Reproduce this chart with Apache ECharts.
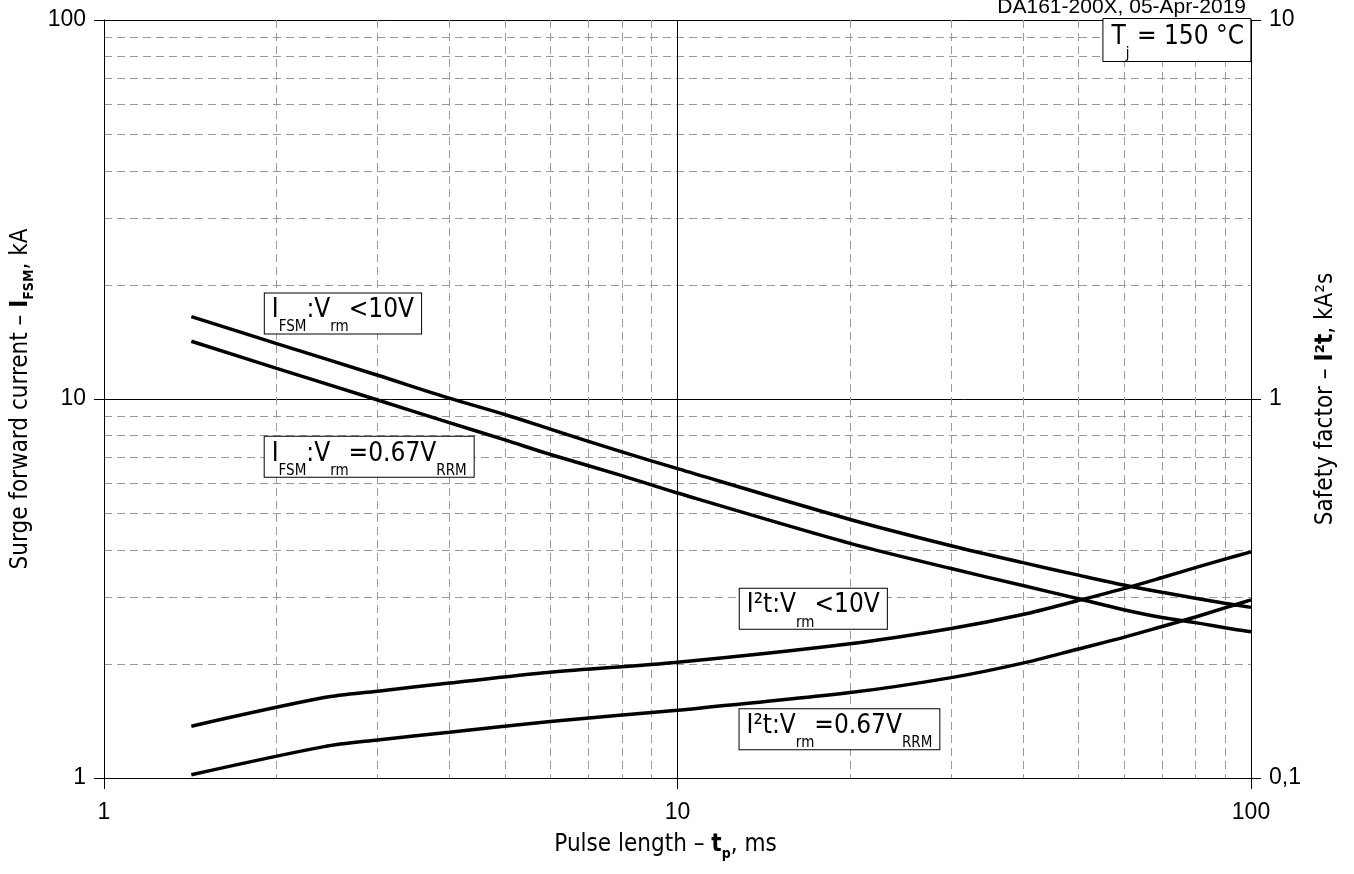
<!DOCTYPE html>
<html>
<head>
<meta charset="utf-8">
<script src="https://cdn.jsdelivr.net/npm/echarts@6/dist/echarts.min.js"></script>
<style>
html,body{margin:0;padding:0;background:#fff;}
#chart{width:1354px;height:874px;}
</style>
</head>
<body>
<div id="chart"></div>
<script>
// ---- data ----
const tpIfsm = [1.42, 2, 3, 4, 5, 6, 8, 10, 20, 30, 40, 50, 60, 70, 80, 90, 100];
const ifsmLow = [16.5, 14.0, 11.55, 10.05, 9.10, 8.33, 7.25, 6.55, 4.81, 4.10, 3.70, 3.43, 3.23, 3.09, 2.98, 2.89, 2.82];   // IFSM : Vrm < 10V  (kA)
const ifsmRated = [14.2, 12.05, 9.94, 8.66, 7.80, 7.14, 6.28, 5.65, 4.16, 3.57, 3.22, 2.97, 2.78, 2.65, 2.57, 2.49, 2.43]; // IFSM : Vrm = 0.67VRRM (kA)

const tpI2t = [1.42, 2.42, 3, 4, 6, 10, 20, 30, 40, 50, 60, 70, 80, 90, 100];
const i2tLow = [0.137, 0.163, 0.1695, 0.178, 0.190, 0.202, 0.226, 0.248, 0.270, 0.294, 0.316, 0.338, 0.359, 0.378, 0.395];   // kA²s
const i2tRated = [0.102, 0.121, 0.126, 0.132, 0.141, 0.151, 0.168, 0.184, 0.201, 0.219, 0.235, 0.251, 0.266, 0.281, 0.295]; // kA²s

const xTicks = [1, 10, 100];
const leftTicks = [1, 10, 100];
const rightTicks = ['0,1', '1', '10'];

// label anchor points (data coordinates)
const labelIfsmLow = [2.61, 16.8];
const labelIfsmRated = [2.90, 7.04];
const labelI2tLow = [17.25, 0.2797];
const labelI2tRated = [19.16, 0.1345];

// ---- styles ----
const F = "'DejaVu Sans Condensed','DejaVu Sans',sans-serif";
const NF = "'Liberation Sans',Arial,sans-serif";

const boxRich = {
  n: {fontSize: 26, fontFamily: F, fontWeight: 'normal', color: '#000', lineHeight: 40, padding: [0, 0, 6, 0]},
  s: {fontSize: 15, fontFamily: F, fontWeight: 'normal', color: '#000', lineHeight: 40, padding: [28, 0, 0, 0]}
};
const titleRich = {
  n: {fontSize: 24, fontFamily: F, fontWeight: 'normal', color: '#000', lineHeight: 30},
  b: {fontSize: 24, fontFamily: F, color: '#000', fontWeight: 'bold', lineHeight: 30},
  bs: {fontSize: 14, fontFamily: F, color: '#000', fontWeight: 'bold', lineHeight: 30, padding: [18, 0, 0, 0]}
};

function zip(xs, ys) { return xs.map((x, i) => [x, ys[i]]); }

function boxLabel(coord, text) {
  return {
    symbol: 'rect', symbolSize: 1,
    itemStyle: {color: 'rgba(0,0,0,0)'},
    data: [{coord: coord}],
    label: {
      show: true, position: 'inside', formatter: text,
      backgroundColor: '#fff', borderColor: '#000', borderWidth: 1,
      padding: [0, 7, 0, 7], rich: boxRich
    }
  };
}

function lineSeries(name, data, yIdx, mp) {
  return {
    name: name, type: 'line', xAxisIndex: 0, yAxisIndex: yIdx,
    data: data, symbol: 'none', smooth: 0.3,
    lineStyle: {color: '#000', width: 3.5},
    itemStyle: {color: '#000'},
    markPoint: mp, z: 5
  };
}

function fmtTick(list, base) {
  return function (v) {
    for (let i = 0; i < base.length; i++) {
      if (Math.abs(Math.log10(v) - Math.log10(base[i])) < 1e-6) return list[i];
    }
    return '';
  };
}

const minorSplit = {show: true, lineStyle: {color: '#9a9a9a', width: 1, type: [8, 5]}};

const chart = echarts.init(document.getElementById('chart'), null, {renderer: 'canvas'});
chart.setOption({
  animation: false,
  backgroundColor: '#fff',
  title: [
    {
      text: 'DA161-200X, 05-Apr-2019', right: 108, top: -3, padding: 0,
      textStyle: {fontSize: 21, fontWeight: 'normal', fontFamily: NF, color: '#000'}
    },
    {
      text: '{n|T}{s|j}{n| = 150 °C}', right: 103, top: 20,
      padding: [0, 7, 0, 9], backgroundColor: '#fff', borderColor: '#000', borderWidth: 1,
      textStyle: {rich: boxRich, fontWeight: 'normal'}, z: 10
    }
  ],
  grid: {left: 104, right: 103, top: 20, bottom: 96, containLabel: false, outerBoundsMode: 'none'},
  xAxis: {
    type: 'log', logBase: 10, min: 1, max: 100,
    name: '{n|Pulse length – }{b|t}{bs|p}{n|, ms}',
    nameLocation: 'middle', nameGap: 52,
    nameTextStyle: {rich: titleRich, padding: [0, 24, 0, 0]},
    axisLine: {show: true, onZero: false, lineStyle: {color: '#000', width: 1}},
    axisTick: {show: true, length: 11, lineStyle: {color: '#000', width: 1}},
    axisLabel: {fontSize: 23, fontFamily: NF, color: '#000', margin: 23, formatter: fmtTick(xTicks.map(String), xTicks)},
    splitLine: {show: true, lineStyle: {color: '#000', width: 1}},
    minorTick: {show: false, splitNumber: 9},
    minorSplitLine: minorSplit
  },
  yAxis: [
    {
      type: 'log', logBase: 10, min: 1, max: 100, position: 'left',
      name: '{n|Surge forward current – }{b|I}{bs|FSM}{n|, kA}',
      nameLocation: 'middle', nameGap: 67,
      nameTextStyle: {rich: titleRich},
      axisLine: {show: true, onZero: false, lineStyle: {color: '#000', width: 1}},
      axisTick: {show: true, length: 10, lineStyle: {color: '#000', width: 1}},
      axisLabel: {fontSize: 23, fontFamily: NF, color: '#000', margin: 18, formatter: fmtTick(leftTicks.map(String), leftTicks)},
      splitLine: {show: true, lineStyle: {color: '#000', width: 1}},
      minorTick: {show: false, splitNumber: 9},
      minorSplitLine: minorSplit
    },
    {
      type: 'log', logBase: 10, min: 0.1, max: 10, position: 'right',
      name: '{n|Safety factor – }{b|I²t}{n|, kA²s}',
      nameLocation: 'middle', nameGap: 60,
      nameTextStyle: {rich: titleRich},
      axisLine: {show: true, onZero: false, lineStyle: {color: '#000', width: 1}},
      axisTick: {show: true, length: 10, lineStyle: {color: '#000', width: 1}},
      axisLabel: {fontSize: 23, fontFamily: NF, color: '#000', margin: 18, formatter: fmtTick(rightTicks, [0.1, 1, 10])},
      splitLine: {show: false},
      minorSplitLine: {show: false}
    }
  ],
  series: [
    lineSeries('IFSM Vrm<10V', zip(tpIfsm, ifsmLow), 0,
      boxLabel(labelIfsmLow, '{n|I}{s|FSM}{n|:V}{s|rm}{n|<10V}')),
    lineSeries('IFSM Vrm=0.67VRRM', zip(tpIfsm, ifsmRated), 0,
      boxLabel(labelIfsmRated, '{n|I}{s|FSM}{n|:V}{s|rm}{n|=0.67V}{s|RRM}')),
    lineSeries('I2t Vrm<10V', zip(tpI2t, i2tLow), 1,
      boxLabel(labelI2tLow, '{n|I²t:V}{s|rm}{n|<10V}')),
    lineSeries('I2t Vrm=0.67VRRM', zip(tpI2t, i2tRated), 1,
      boxLabel(labelI2tRated, '{n|I²t:V}{s|rm}{n|=0.67V}{s|RRM}'))
  ]
});
</script>
</body>
</html>
